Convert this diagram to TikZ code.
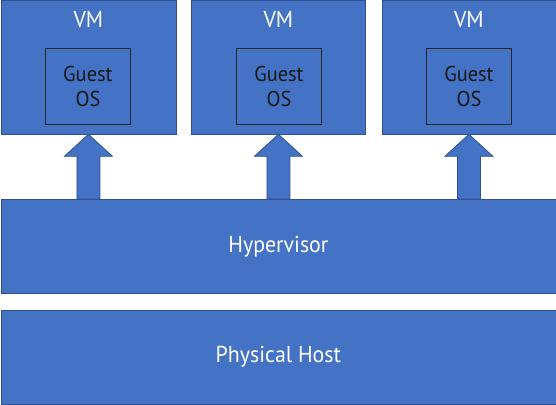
\documentclass[tikz,border=0pt]{standalone}
\usepackage{fontspec}
\setmainfont{PT Sans}[FakeStretch=0.95]
\usetikzlibrary{calc}
\definecolor{boxblue}{HTML}{4472C4}
\definecolor{boxedge}{HTML}{2F528F}
\begin{document}
\begin{tikzpicture}[x=1pt,y=-1pt,
  bluebox/.style={draw=boxedge,fill=boxblue,line width=0.8pt,inner sep=0pt,anchor=north west},
  osbox/.style={draw=black!85,line width=0.9pt,inner sep=0pt,minimum width=85pt,minimum height=76pt,anchor=north west,align=center,font=\fontsize{21.5}{25}\selectfont,text=black!90},
  label/.style={text=white,font=\fontsize{23}{26}\selectfont},
  uparrow/.style={draw=boxedge,fill=boxblue,line width=0.8pt}]
\useasboundingbox (0,0) rectangle (556,404);
\node[bluebox,minimum width=175pt,minimum height=133pt] (vm1) at (0.5,0.5) {};
\node[bluebox,minimum width=174pt,minimum height=133pt] (vm2) at (191,0.5) {};
\node[bluebox,minimum width=174pt,minimum height=133pt] (vm3) at (381.5,0.5) {};
\node[bluebox,minimum width=555pt,minimum height=94pt] (hyp) at (0.5,199) {};
\node[bluebox,minimum width=555pt,minimum height=94pt] (phys) at (0.5,309.5) {};
\node[label] (t1) at ($(vm1.north)+(0,19.5)$) {VM};
\node[label] (t2) at ($(vm2.north)+(0,19.5)$) {VM};
\node[label] (t3) at ($(vm3.north)+(0,19.5)$) {VM};
\node[osbox] (os1) at (45,48) {Guest\\OS};
\node[osbox] (os2) at (236,48) {Guest\\OS};
\node[osbox] (os3) at (426,48) {Guest\\OS};
\node[label] (th) at (hyp.center) {Hypervisor};
\node[label] (tp) at (phys.center) {Physical Host};
\foreach \v in {vm1,vm2,vm3}{
  \draw[uparrow] let \p1=(\v.south), \p2=(hyp.north) in
    (\x1,\y1) -- (\x1+24pt,\y1-22pt) -- (\x1+11.5pt,\y1-22pt) -- (\x1+11.5pt,\y2)
    -- (\x1-11.5pt,\y2) -- (\x1-11.5pt,\y1-22pt) -- (\x1-24pt,\y1-22pt) -- cycle;
}
\end{tikzpicture}
\end{document}
